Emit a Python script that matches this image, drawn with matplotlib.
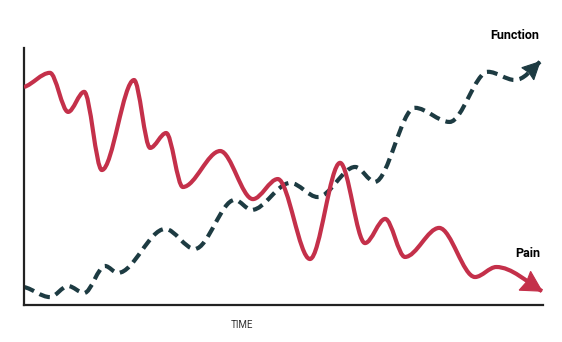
import matplotlib
matplotlib.use("Agg")
import matplotlib.pyplot as plt
import numpy as np
from matplotlib.path import Path
from matplotlib.patches import PathPatch, Polygon

# key points (time 0-100, level 0-100)
pain_t = [0, 5.0, 8.5, 11.6, 15.0, 21.2, 24.3, 27.4, 30.6, 37.8, 44.1, 48.9,
          55.1, 60.9, 65.7, 69.6, 73.4, 80.0, 86.9, 91.0, 99.8]
pain_v = [84.8, 90.3, 75.1, 82.9, 52.5, 87.5, 61.1, 66.9, 45.9, 59.9, 41.2, 49.0,
          17.9, 55.3, 24.1, 33.5, 18.7, 30.0, 10.9, 14.8, 5.4]

func_t = [0, 5.0, 8.5, 11.6, 15.6, 18.1, 27.2, 32.9, 40.6, 43.9, 51.3, 56.6,
          63.8, 67.6, 75.3, 82.0, 89.4, 94.6, 99.4]
func_v = [7.0, 3.1, 7.4, 4.7, 15.2, 12.5, 29.6, 21.8, 40.9, 37.0, 47.5, 42.0,
          53.7, 47.9, 76.7, 71.2, 90.7, 87.5, 94.6]

labels = {"Function": (94.5, 105.0), "Pain": (97.0, 20.2)}

RED = "#C4304A"
DARK = "#1D3B42"
PX_X = 5.19  # pixels per time unit
PX_Y = 2.57  # pixels per level unit


def slopes(xs, ys, end_k):
    x = np.asarray(xs, float)
    y = np.asarray(ys, float)
    h = np.diff(x)
    d = np.diff(y) / h
    m = np.zeros_like(x)
    for i in range(1, len(x) - 1):
        if d[i - 1] * d[i] > 0:
            w1 = 2 * h[i] + h[i - 1]
            w2 = h[i] + 2 * h[i - 1]
            m[i] = (w1 + w2) / (w1 / d[i - 1] + w2 / d[i])
    m[0] = d[0] * 0.5
    m[-1] = d[-1] * end_k
    return x, y, h, m


def smooth_path(xs, ys, end_k=1.2):
    # cubic bezier through the points, flat at peaks / troughs
    x, y, h, m = slopes(xs, ys, end_k)
    verts = [(x[0], y[0])]
    codes = [Path.MOVETO]
    for i in range(len(x) - 1):
        verts += [(x[i] + h[i] / 3, y[i] + m[i] * h[i] / 3),
                  (x[i + 1] - h[i] / 3, y[i + 1] - m[i + 1] * h[i] / 3),
                  (x[i + 1], y[i + 1])]
        codes += [Path.CURVE4] * 3
    return Path(verts, codes), m[-1]


def head(ax, xs, ys, slope, color, length_px, width_px):
    # filled triangle at the end of the line, sized in pixels
    ux, uy = PX_X, PX_Y * slope
    n = np.hypot(ux, uy)
    ux, uy = ux / n, uy / n
    tx, ty = xs[-1], ys[-1]
    bx, by = -ux * length_px, -uy * length_px
    px, py = -uy * width_px / 2, ux * width_px / 2
    pts = [(tx, ty),
           (tx + (bx + px) / PX_X, ty + (by + py) / PX_Y),
           (tx + (bx * 0.9) / PX_X, ty + (by * 0.9) / PX_Y),
           (tx + (bx - px) / PX_X, ty + (by - py) / PX_Y)]
    ax.add_patch(Polygon(pts, closed=True, facecolor=color, edgecolor=color,
                         linewidth=0.8, joinstyle="miter", zorder=4))


fig = plt.figure(figsize=(5.62, 3.42), dpi=100)
ax = fig.add_axes([0.0427, 0.108, 0.9235, 0.752])
ax.set_xlim(0, 100)
ax.set_ylim(0, 100)

p_path, p_end = smooth_path(pain_t, pain_v, 1.15)
ax.add_patch(PathPatch(p_path, fill=False, edgecolor=RED, linewidth=3.0,
                       capstyle="butt", joinstyle="round", zorder=3))
head(ax, pain_t, pain_v, p_end, RED, 20, 22)

f_path, f_end = smooth_path(func_t, func_v, 1.35)
ax.add_patch(PathPatch(f_path, fill=False, edgecolor=DARK, linewidth=3.0,
                       linestyle=(0, (2.6, 1.5)), capstyle="butt", zorder=2))
head(ax, func_t, func_v, f_end, DARK, 17, 17)

for txt, (tx, ty) in labels.items():
    ax.text(tx, ty, txt, ha="center", va="center", fontsize=9, fontweight="bold",
            family=["Liberation Sans Narrow", "Roboto", "DejaVu Sans"], clip_on=False)

ax.set_xlabel("TIME", fontsize=7, family=["Liberation Sans Narrow", "Roboto", "DejaVu Sans"],
              color="#333333")
ax.xaxis.set_label_coords(0.42, -0.06)

ax.set_xticks([])
ax.set_yticks([])
for s in ["top", "right"]:
    ax.spines[s].set_visible(False)
for s in ["left", "bottom"]:
    ax.spines[s].set_linewidth(1.6)
    ax.spines[s].set_color("#222222")

fig.savefig("out.png", dpi=100)
